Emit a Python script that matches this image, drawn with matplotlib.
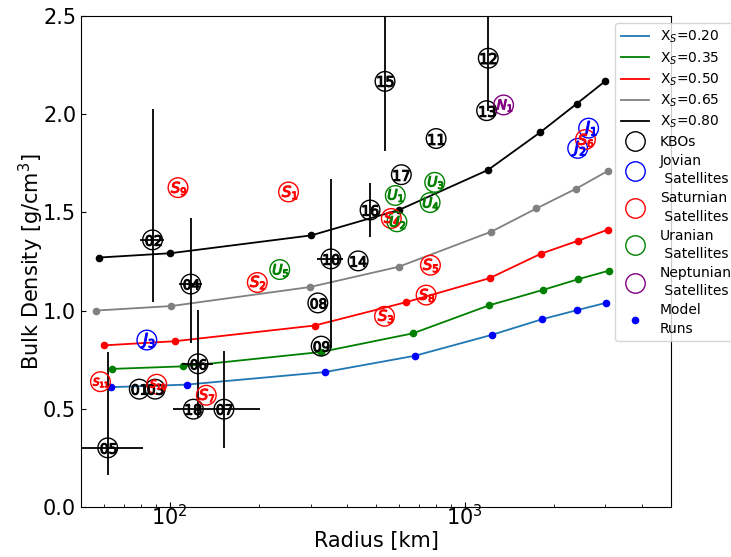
import matplotlib
matplotlib.use('Agg')
from matplotlib import pyplot as plt
from matplotlib.lines import Line2D
import numpy as np

# model runs: radius [km] and bulk density for each silicate fraction
xs_labels = ['0.20', '0.35', '0.50', '0.65', '0.80']
line_colors = ['tab:blue', 'g', 'r', 'gray', 'k']
dot_colors = ['b', 'g', 'r', 'gray', 'k']
model_r = [
    [63, 114, 336, 678, 1233, 1829, 2400, 3006],
    [63.5, 111, 325, 667, 1211, 1849, 2427, 3077],
    [60, 104, 310, 630, 1214, 1815, 2427, 3055],
    [56, 101, 299, 597, 1231, 1750, 2388, 3055],
    [57.4, 100.5, 302, 600, 1199, 1800, 2400, 2987],
]
model_rho = [
    [0.610, 0.623, 0.687, 0.770, 0.876, 0.956, 1.002, 1.039],
    [0.703, 0.716, 0.789, 0.884, 1.027, 1.106, 1.160, 1.203],
    [0.823, 0.844, 0.924, 1.042, 1.165, 1.290, 1.356, 1.412],
    [1.000, 1.023, 1.120, 1.223, 1.402, 1.520, 1.621, 1.711],
    [1.270, 1.292, 1.383, 1.513, 1.716, 1.907, 2.054, 2.167],
]

# KBOs
kbo_names = ['01', '02', '03', '04', '05', '06', '07', '08', '09',
             '10', '11', '12', '13', '14', '15', '16', '17', '18']
kbo_r = [78.8, 87.4, 89.2, 117.8, 61.6, 124.7, 152.6, 317.6, 326,
         351.8, 799.6, 1201.6, 1186, 435, 536.6, 477.6, 609.5, 120.2]
kbo_rho = [0.600, 1.360, 0.600, 1.135, 0.301, 0.729, 0.498, 1.039, 0.819,
           1.263, 1.876, 2.285, 2.018, 1.253, 2.167, 1.512, 1.692, 0.498]
kbo_rerr = [0, 8.3, 0, 10.7, 19.3, 15, 50, 0, 0,
            36, 0, 0, 0, 0, 0, 0, 0, 0]
kbo_rho_lo = [0, 0.316, 0, 0.299, 0.137, 0.276, 0.197, 0, 0,
              0.452, 0, 0.27, 0, 0, 0.356, 0.137, 0, 0]
kbo_rho_hi = [0, 0.665, 0, 0.338, 0.49, 0.276, 0.296, 0, 0,
              0.406, 0, 0.27, 0, 0, 0.356, 0.137, 0, 0]

# satellites
jov_names = ['J_1', 'J_2', 'J_3']
jov_r = [2630, 2415, 83.6]
jov_rho = [1.929, 1.826, 0.850]

sat_names = ['S_1', 'S_2', 'S_3', 'S_4', 'S_5', 'S_6', 'S_7', 'S_8',
             'S_9', 'S_{10}', 'S_{11}']
sat_r = [252.7, 198, 534.6, 563.6, 765, 2566, 133, 739.6, 106.6, 90.3, 58.2]
sat_rho = [1.604, 1.143, 0.971, 1.469, 1.231, 1.871, 0.569, 1.079,
           1.626, 0.625, 0.638]

ura_names = ['U_1', 'U_2', 'U_3', 'U_4', 'U_5']
ura_r = [581.4, 589, 791, 763, 235.9]
ura_rho = [1.586, 1.452, 1.653, 1.550, 1.209]

nep_names = ['N_1']
nep_r = [1354]
nep_rho = [2.047]

fig = plt.figure(figsize=(7.31, 5.57), dpi=100)
ax = fig.add_axes([0.1108, 0.0898, 0.807, 0.8815])

for i in range(len(xs_labels)):
    ax.plot(model_r[i], model_rho[i], '-', color=line_colors[i], lw=1.3)
    ax.plot(model_r[i], model_rho[i], 'o', color=dot_colors[i], ms=4.5)

ax.errorbar(kbo_r, kbo_rho, xerr=kbo_rerr, yerr=[kbo_rho_lo, kbo_rho_hi],
            fmt='none', ecolor='k', elinewidth=1.3)

circle_s = 200


def labelled(xv, yv, names, color, size):
    ax.scatter(xv, yv, s=circle_s, facecolors='none', edgecolors=color,
               linewidths=1.0, zorder=4)
    for x, y, n in zip(xv, yv, names):
        ax.scatter(x, y, s=size, marker='$' + n + '$', c=color,
                   linewidths=0.8, zorder=5)


labelled(kbo_r, kbo_rho, kbo_names, 'k', 125)
labelled(jov_r, jov_rho, jov_names, 'b', 115)
labelled(sat_r, sat_rho, sat_names, 'r', 115)
labelled(ura_r, ura_rho, ura_names, 'g', 115)
labelled(nep_r, nep_rho, nep_names, 'purple', 115)

ax.set_xscale('log')
ax.set_xlim(50, 5000)
ax.set_ylim(0, 2.5)
ax.set_yticks([0, 0.5, 1.0, 1.5, 2.0, 2.5])
ax.tick_params(which='both', direction='in', labelsize=15)
ax.tick_params(axis='x', which='major', pad=-2)
ax.set_xlabel('Radius [km]', fontsize=15, labelpad=1)
ax.set_ylabel('Bulk Density [g/cm$^3$]', fontsize=15, labelpad=-2)

handles = []
for i in range(len(xs_labels)):
    handles.append(Line2D([], [], color=line_colors[i], lw=1.3,
                          label='X$_S$=' + xs_labels[i]))
circ = dict(marker='o', ls='none', ms=14, mfc='none', mew=1.0)
handles.append(Line2D([], [], mec='k', label='KBOs', **circ))
handles.append(Line2D([], [], mec='b', label='Jovian\n Satellites', **circ))
handles.append(Line2D([], [], mec='r', label='Saturnian\n Satellites', **circ))
handles.append(Line2D([], [], mec='g', label='Uranian\n Satellites', **circ))
handles.append(Line2D([], [], mec='purple', label='Neptunian\n Satellites', **circ))
handles.append(Line2D([], [], marker='o', ls='none', color='b', ms=4.5,
                      label='Model\nRuns'))
leg = ax.legend(handles=handles, loc='upper left', bbox_to_anchor=(0.906, 0.985),
                fontsize=10, borderaxespad=0, labelspacing=0.35)
for t in leg.get_texts():
    t.set_linespacing(1.4)

fig.savefig('out.png', dpi=100)
